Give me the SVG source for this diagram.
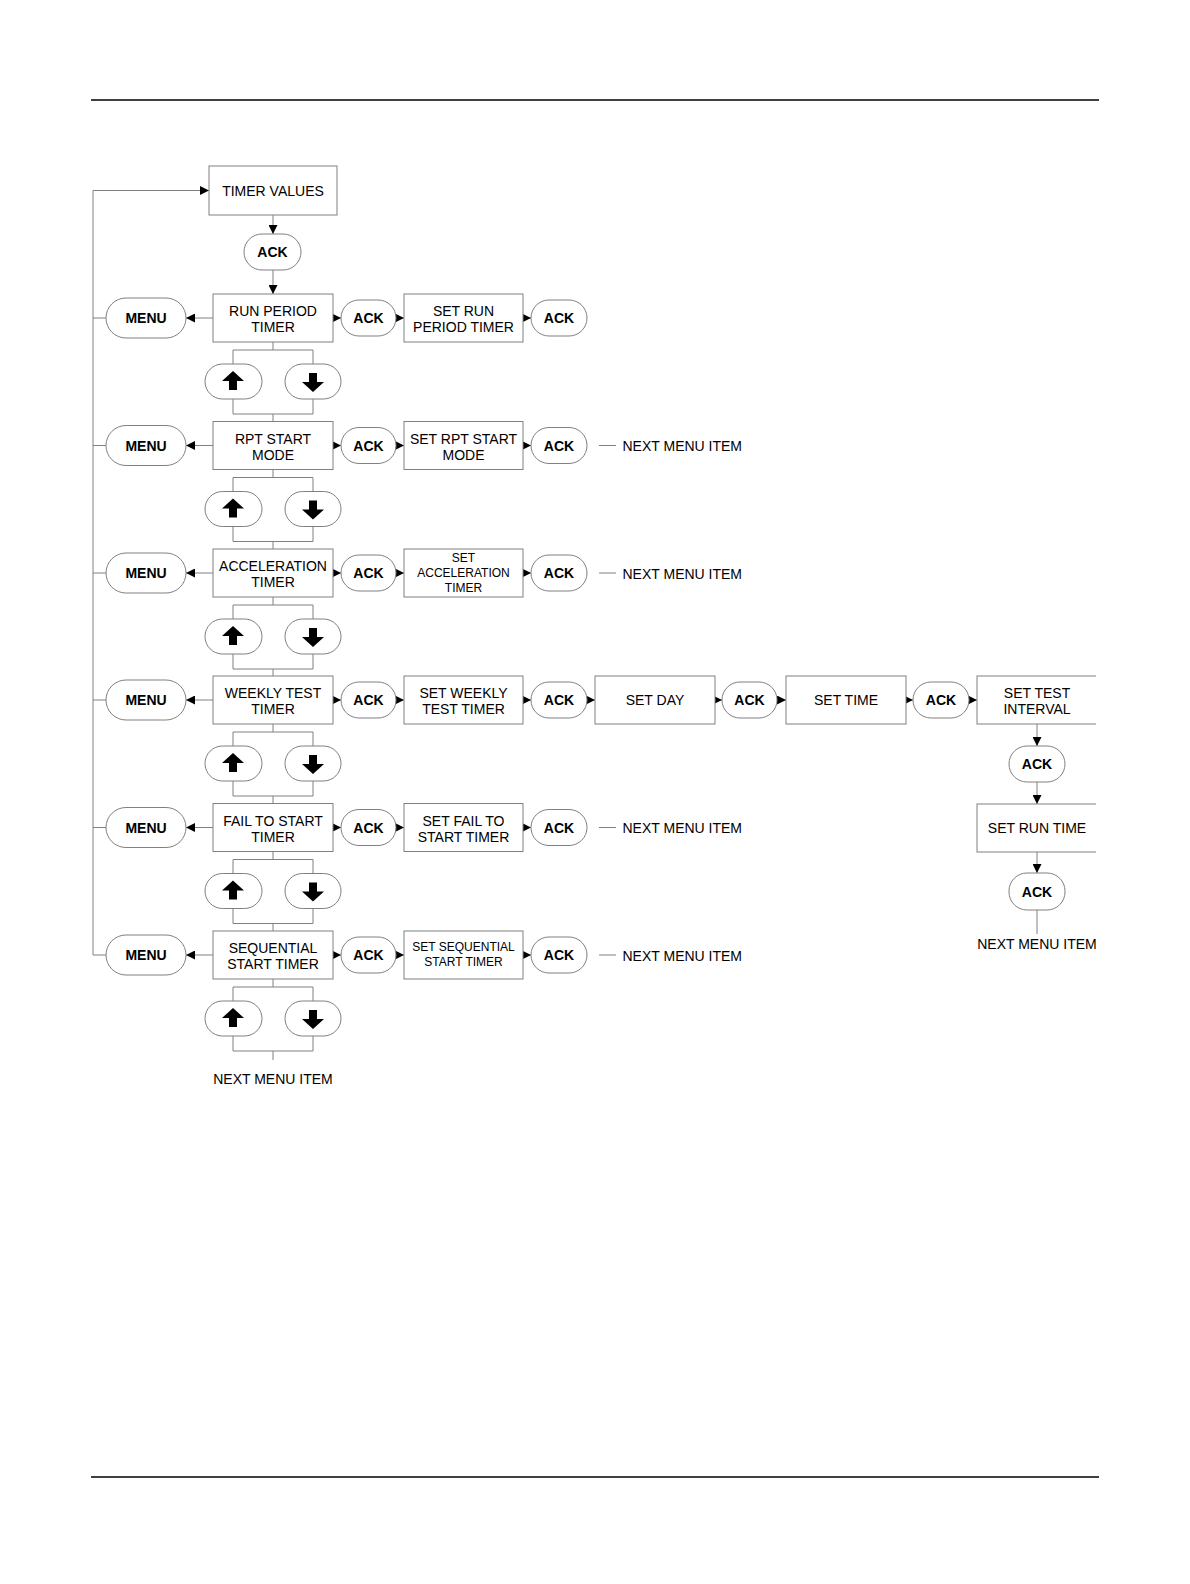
<svg xmlns="http://www.w3.org/2000/svg" width="1190" height="1584" viewBox="0 0 1190 1584">
<style>
.bx{fill:#fff;stroke:#808080;stroke-width:1}
.pl{fill:#fff;stroke:#808080;stroke-width:1}
.ln{fill:none;stroke:#808080;stroke-width:1}
.ar{fill:none;stroke:#808080;stroke-width:1;marker-end:url(#ah)}
.t{font-family:"Liberation Sans",Arial,sans-serif;font-size:14px;fill:#000;text-anchor:middle}
.tl{font-family:"Liberation Sans",Arial,sans-serif;font-size:14px;fill:#000}
.s{font-family:"Liberation Sans",Arial,sans-serif;font-size:12px;fill:#000;text-anchor:middle}
.b{font-family:"Liberation Sans",Arial,sans-serif;font-size:14px;font-weight:bold;fill:#000;text-anchor:middle}
.ic{fill:#000}
.rule{stroke:#000;stroke-width:1.5}
</style>
<defs>
<marker id="ah" markerWidth="9" markerHeight="9" refX="9" refY="4.5" orient="auto" markerUnits="userSpaceOnUse">
<path d="M0,0 L9,4.5 L0,9 z" fill="#000"/>
</marker>
<clipPath id="clipR"><rect x="0" y="0" width="1096" height="1584"/></clipPath>
<polygon id="up" points="0,-10.5 11,-0.5 4,-0.5 4,8.5 -4,8.5 -4,-0.5 -11,-0.5"/>
<polygon id="dn" points="0,10.5 11,0.5 4,0.5 4,-8.5 -4,-8.5 -4,0.5 -11,0.5"/>
</defs>
<rect x="0" y="0" width="1190" height="1584" fill="#fff"/>
<line class="rule" x1="91" y1="100" x2="1099" y2="100"/>
<line class="rule" x1="91" y1="1477" x2="1099" y2="1477"/>

<g id="connectors">
<path class="ln" d="M93,190.5 V955"/>
<path class="ar" d="M93,190.5 H209"/>
<path class="ar" d="M273,215 V234"/>
<path class="ar" d="M273,270 V294"/>
<path class="ln" d="M93,318 H106 M93,445.5 H106 M93,573 H106 M93,700 H106 M93,827.5 H106 M93,955 H106"/>
<path class="ar" d="M213,318 H186"/><path class="ar" d="M213,445.5 H186"/><path class="ar" d="M213,573 H186"/>
<path class="ar" d="M213,700 H186"/><path class="ar" d="M213,827.5 H186"/><path class="ar" d="M213,955 H186"/>
<path class="ar" d="M333,318 H341"/><path class="ar" d="M333,445.5 H341"/><path class="ar" d="M333,573 H341"/>
<path class="ar" d="M333,700 H341"/><path class="ar" d="M333,827.5 H341"/><path class="ar" d="M333,955 H341"/>
<path class="ar" d="M396,318 H404"/><path class="ar" d="M396,445.5 H404"/><path class="ar" d="M396,573 H404"/>
<path class="ar" d="M396,700 H404"/><path class="ar" d="M396,827.5 H404"/><path class="ar" d="M396,955 H404"/>
<path class="ar" d="M523,318 H531"/><path class="ar" d="M523,445.5 H531"/><path class="ar" d="M523,573 H531"/>
<path class="ar" d="M523,700 H531"/><path class="ar" d="M523,827.5 H531"/><path class="ar" d="M523,955 H531"/>
<path class="ln" d="M599,445.5 H616 M599,573 H616 M599,827.5 H616 M599,955 H616"/>
<path class="ar" d="M587,700 H595"/>
<path class="ar" d="M715,700 H722"/>
<path class="ar" d="M777,700 H786"/>
<path class="ar" d="M906,700 H913"/>
<path class="ar" d="M969,700 H977"/>
<path class="ar" d="M1037,724 V746"/>
<path class="ar" d="M1037,782 V804"/>
<path class="ar" d="M1037,852 V873"/>
<path class="ln" d="M1037,910 V934"/>
<path class="ln" d="M273,342 V350 M233,350 H313 M233,350 V364 M313,350 V364 M233,399 V414 M313,399 V414 M233,414 H313 M273,414 V421.5"/>
<path class="ln" d="M273,469.5 V477.5 M233,477.5 H313 M233,477.5 V491.5 M313,477.5 V491.5 M233,526.5 V541.5 M313,526.5 V541.5 M233,541.5 H313 M273,541.5 V549"/>
<path class="ln" d="M273,597 V605 M233,605 H313 M233,605 V619 M313,605 V619 M233,654 V669 M313,654 V669 M233,669 H313 M273,669 V676"/>
<path class="ln" d="M273,724 V732 M233,732 H313 M233,732 V746 M313,732 V746 M233,781 V796 M313,781 V796 M233,796 H313 M273,796 V803.5"/>
<path class="ln" d="M273,851.5 V859.5 M233,859.5 H313 M233,859.5 V873.5 M313,859.5 V873.5 M233,908.5 V923.5 M313,908.5 V923.5 M233,923.5 H313 M273,923.5 V931"/>
<path class="ln" d="M273,979 V987 M233,987 H313 M233,987 V1001 M313,987 V1001 M233,1036 V1051 M313,1036 V1051 M233,1051 H313 M273,1051 V1060"/>
</g>

<g id="timer-values"><rect class="bx" x="209" y="166" width="128" height="49"/><text class="t" x="273" y="195.5">TIMER VALUES</text></g>
<g id="ack-top"><rect class="pl" x="244" y="234" width="57" height="36" rx="18"/><text class="b" x="272.5" y="257">ACK</text></g>

<g id="menu-1"><rect class="pl" x="106" y="298" width="80" height="40" rx="20"/><text class="b" x="146" y="323">MENU</text></g>
<g id="run-period"><rect class="bx" x="213" y="294" width="120" height="48"/><text class="t" x="273" y="316">RUN PERIOD</text><text class="t" x="273" y="332">TIMER</text></g>
<g id="ack-1a"><rect class="pl" x="341" y="300" width="55" height="36" rx="18"/><text class="b" x="368.5" y="323">ACK</text></g>
<g id="set-run-period"><rect class="bx" x="404" y="294" width="119" height="48"/><text class="t" x="463.5" y="316">SET RUN</text><text class="t" x="463.5" y="332">PERIOD TIMER</text></g>
<g id="ack-1b"><rect class="pl" x="531" y="300" width="56" height="36" rx="18"/><text class="b" x="559" y="323">ACK</text></g>
<g id="updn-1"><rect class="pl" x="205" y="364" width="57" height="35" rx="17.5"/><use href="#up" class="ic" x="233" y="381.5"/><rect class="pl" x="285" y="364" width="56" height="35" rx="17.5"/><use href="#dn" class="ic" x="313" y="381.5"/></g>

<g id="menu-2"><rect class="pl" x="106" y="425.5" width="80" height="40" rx="20"/><text class="b" x="146" y="450.5">MENU</text></g>
<g id="rpt-start"><rect class="bx" x="213" y="421.5" width="120" height="48"/><text class="t" x="273" y="443.5">RPT START</text><text class="t" x="273" y="459.5">MODE</text></g>
<g id="ack-2a"><rect class="pl" x="341" y="427.5" width="55" height="36" rx="18"/><text class="b" x="368.5" y="450.5">ACK</text></g>
<g id="set-rpt-start"><rect class="bx" x="404" y="421.5" width="119" height="48"/><text class="t" x="463.5" y="443.5">SET RPT START</text><text class="t" x="463.5" y="459.5">MODE</text></g>
<g id="ack-2b"><rect class="pl" x="531" y="427.5" width="56" height="36" rx="18"/><text class="b" x="559" y="450.5">ACK</text></g>
<g id="next-2"><text class="tl" x="622.5" y="451">NEXT MENU ITEM</text></g>
<g id="updn-2"><rect class="pl" x="205" y="491.5" width="57" height="35" rx="17.5"/><use href="#up" class="ic" x="233" y="509"/><rect class="pl" x="285" y="491.5" width="56" height="35" rx="17.5"/><use href="#dn" class="ic" x="313" y="509"/></g>

<g id="menu-3"><rect class="pl" x="106" y="553" width="80" height="40" rx="20"/><text class="b" x="146" y="578">MENU</text></g>
<g id="acceleration"><rect class="bx" x="213" y="549" width="120" height="48"/><text class="t" x="273" y="571">ACCELERATION</text><text class="t" x="273" y="587">TIMER</text></g>
<g id="ack-3a"><rect class="pl" x="341" y="555" width="55" height="36" rx="18"/><text class="b" x="368.5" y="578">ACK</text></g>
<g id="set-acceleration"><rect class="bx" x="404" y="549" width="119" height="48"/><text class="s" x="463.5" y="562">SET</text><text class="s" x="463.5" y="577">ACCELERATION</text><text class="s" x="463.5" y="592">TIMER</text></g>
<g id="ack-3b"><rect class="pl" x="531" y="555" width="56" height="36" rx="18"/><text class="b" x="559" y="578">ACK</text></g>
<g id="next-3"><text class="tl" x="622.5" y="578.5">NEXT MENU ITEM</text></g>
<g id="updn-3"><rect class="pl" x="205" y="619" width="57" height="35" rx="17.5"/><use href="#up" class="ic" x="233" y="636.5"/><rect class="pl" x="285" y="619" width="56" height="35" rx="17.5"/><use href="#dn" class="ic" x="313" y="636.5"/></g>

<g id="menu-4"><rect class="pl" x="106" y="680" width="80" height="40" rx="20"/><text class="b" x="146" y="705">MENU</text></g>
<g id="weekly-test"><rect class="bx" x="213" y="676" width="120" height="48"/><text class="t" x="273" y="698">WEEKLY TEST</text><text class="t" x="273" y="714">TIMER</text></g>
<g id="ack-4a"><rect class="pl" x="341" y="682" width="55" height="36" rx="18"/><text class="b" x="368.5" y="705">ACK</text></g>
<g id="set-weekly-test"><rect class="bx" x="404" y="676" width="119" height="48"/><text class="t" x="463.5" y="698">SET WEEKLY</text><text class="t" x="463.5" y="714">TEST TIMER</text></g>
<g id="ack-4b"><rect class="pl" x="531" y="682" width="56" height="36" rx="18"/><text class="b" x="559" y="705">ACK</text></g>
<g id="set-day"><rect class="bx" x="595" y="676" width="120" height="48"/><text class="t" x="655" y="705">SET DAY</text></g>
<g id="ack-4c"><rect class="pl" x="722" y="682" width="55" height="36" rx="18"/><text class="b" x="749.5" y="705">ACK</text></g>
<g id="set-time"><rect class="bx" x="786" y="676" width="120" height="48"/><text class="t" x="846" y="705">SET TIME</text></g>
<g id="ack-4d"><rect class="pl" x="913" y="682" width="56" height="36" rx="18"/><text class="b" x="941" y="705">ACK</text></g>
<g clip-path="url(#clipR)">
<g id="set-test-interval"><rect class="bx" x="977" y="676" width="130" height="48"/><text class="t" x="1037" y="698">SET TEST</text><text class="t" x="1037" y="714">INTERVAL</text></g>
<g id="ack-4e"><rect class="pl" x="1009" y="746" width="56" height="36" rx="18"/><text class="b" x="1037" y="769">ACK</text></g>
<g id="set-run-time"><rect class="bx" x="977" y="804" width="130" height="48"/><text class="t" x="1037" y="833">SET RUN TIME</text></g>
<g id="ack-4f"><rect class="pl" x="1009" y="873" width="56" height="37" rx="18"/><text class="b" x="1037" y="896.5">ACK</text></g>
<g id="next-4"><text class="t" x="1037" y="949">NEXT MENU ITEM</text></g>
</g>
<g id="updn-4"><rect class="pl" x="205" y="746" width="57" height="35" rx="17.5"/><use href="#up" class="ic" x="233" y="763.5"/><rect class="pl" x="285" y="746" width="56" height="35" rx="17.5"/><use href="#dn" class="ic" x="313" y="763.5"/></g>

<g id="menu-5"><rect class="pl" x="106" y="807.5" width="80" height="40" rx="20"/><text class="b" x="146" y="832.5">MENU</text></g>
<g id="fail-to-start"><rect class="bx" x="213" y="803.5" width="120" height="48"/><text class="t" x="273" y="825.5">FAIL TO START</text><text class="t" x="273" y="841.5">TIMER</text></g>
<g id="ack-5a"><rect class="pl" x="341" y="809.5" width="55" height="36" rx="18"/><text class="b" x="368.5" y="832.5">ACK</text></g>
<g id="set-fail-to-start"><rect class="bx" x="404" y="803.5" width="119" height="48"/><text class="t" x="463.5" y="825.5">SET FAIL TO</text><text class="t" x="463.5" y="841.5">START TIMER</text></g>
<g id="ack-5b"><rect class="pl" x="531" y="809.5" width="56" height="36" rx="18"/><text class="b" x="559" y="832.5">ACK</text></g>
<g id="next-5"><text class="tl" x="622.5" y="833">NEXT MENU ITEM</text></g>
<g id="updn-5"><rect class="pl" x="205" y="873.5" width="57" height="35" rx="17.5"/><use href="#up" class="ic" x="233" y="891"/><rect class="pl" x="285" y="873.5" width="56" height="35" rx="17.5"/><use href="#dn" class="ic" x="313" y="891"/></g>

<g id="menu-6"><rect class="pl" x="106" y="935" width="80" height="40" rx="20"/><text class="b" x="146" y="960">MENU</text></g>
<g id="sequential-start"><rect class="bx" x="213" y="931" width="120" height="48"/><text class="t" x="273" y="953">SEQUENTIAL</text><text class="t" x="273" y="969">START TIMER</text></g>
<g id="ack-6a"><rect class="pl" x="341" y="937" width="55" height="36" rx="18"/><text class="b" x="368.5" y="960">ACK</text></g>
<g id="set-sequential-start"><rect class="bx" x="404" y="931" width="119" height="48"/><text class="s" x="463.5" y="951">SET SEQUENTIAL</text><text class="s" x="463.5" y="966">START TIMER</text></g>
<g id="ack-6b"><rect class="pl" x="531" y="937" width="56" height="36" rx="18"/><text class="b" x="559" y="960">ACK</text></g>
<g id="next-6"><text class="tl" x="622.5" y="960.5">NEXT MENU ITEM</text></g>
<g id="updn-6"><rect class="pl" x="205" y="1001" width="57" height="35" rx="17.5"/><use href="#up" class="ic" x="233" y="1018.5"/><rect class="pl" x="285" y="1001" width="56" height="35" rx="17.5"/><use href="#dn" class="ic" x="313" y="1018.5"/></g>
<g id="next-bottom"><text class="t" x="273" y="1084">NEXT MENU ITEM</text></g>
</svg>
